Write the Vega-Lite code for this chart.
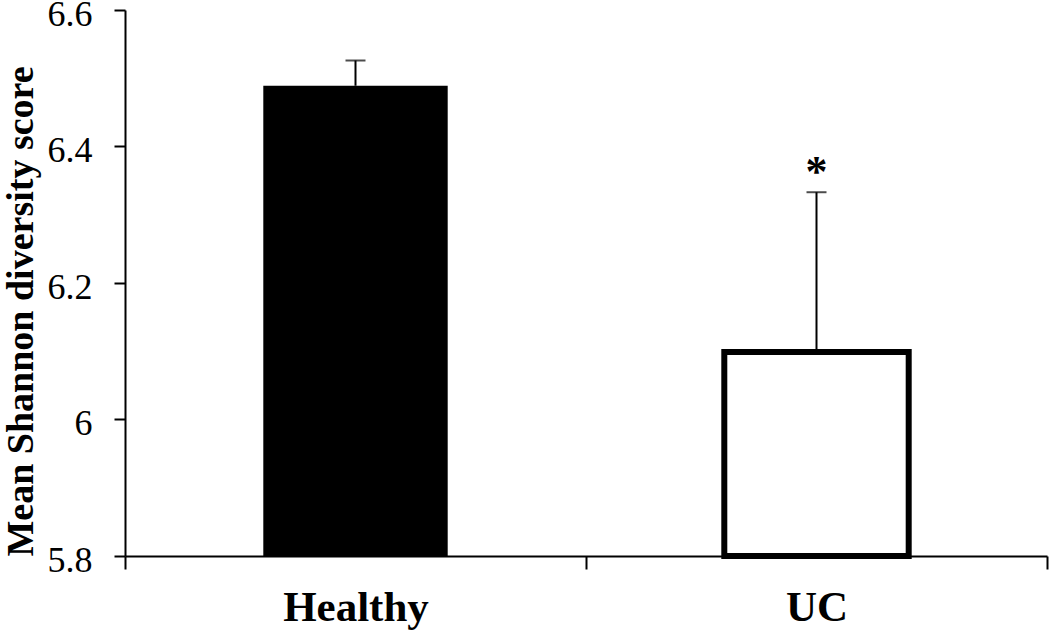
{
  "$schema": "https://vega.github.io/schema/vega-lite/v6.json",
  "autosize": {"type": "none"},
  "width": 922,
  "height": 546,
  "padding": {"left": 125, "top": 10, "right": 3, "bottom": 81},
  "background": "white",
  "config": {"view": {"stroke": null}, "font": "Liberation Serif"},
  "data": {"values": [
    {"group": "Healthy", "mean": 6.489, "upper": 6.526, "sig": ""},
    {"group": "UC", "mean": 6.099, "upper": 6.333, "sig": "*"}
  ]},
  "encoding": {
    "x": {
      "field": "group", "type": "nominal", "sort": null,
      "scale": {"paddingInner": 0, "paddingOuter": 0},
      "axis": {
        "title": null, "labelAngle": 0, "domainColor": "black", "domainWidth": 2,
        "tickColor": "black", "tickWidth": 2, "tickSize": 13, "tickBand": "extent",
        "labelFont": "Liberation Serif", "labelFontWeight": "bold", "labelFontSize": 43,
        "labelColor": "black", "labelPadding": 17, "zindex": 1
      }
    }
  },
  "layer": [
    {
      "mark": {"type": "bar", "stroke": "black", "strokeJoin": "miter", "width": {"band": 0.4}},
      "encoding": {
        "y": {
          "field": "mean", "type": "quantitative",
          "scale": {"domain": [5.8, 6.6], "nice": false, "zero": false},
          "axis": {
            "values": [5.8, 6.0, 6.2, 6.4, 6.6], "format": ".1~f", "grid": false,
            "domainColor": "black", "domainWidth": 2, "tickColor": "black", "tickWidth": 2,
            "tickSize": 11, "labelFont": "Liberation Serif", "labelFontSize": 36,
            "labelColor": "black", "labelPadding": 22, "labelOffset": 4,
            "title": "Mean Shannon diversity score", "titleFont": "Liberation Serif",
            "titleFontWeight": "bold", "titleFontSize": 38, "titleColor": "black",
            "titleX": -104, "titleY": 301, "titleAngle": -90, "titleAlign": "center",
            "titleBaseline": "middle", "zindex": 1
          }
        },
        "y2": {"datum": 5.8},
        "fill": {
          "field": "group", "type": "nominal",
          "scale": {"domain": ["Healthy", "UC"], "range": ["black", "white"]},
          "legend": null
        },
        "strokeWidth": {
          "field": "group", "type": "nominal",
          "scale": {"domain": ["Healthy", "UC"], "range": [0, 6]},
          "legend": null
        }
      }
    },
    {
      "mark": {"type": "rule", "color": "black", "strokeWidth": 2},
      "encoding": {
        "y": {"field": "mean", "type": "quantitative"},
        "y2": {"field": "upper"}
      }
    },
    {
      "mark": {"type": "tick", "color": "black", "thickness": 2, "size": 20},
      "encoding": {
        "y": {"field": "upper", "type": "quantitative"}
      }
    },
    {
      "mark": {"type": "text", "font": "Liberation Serif", "fontWeight": "bold", "fontSize": 44, "baseline": "alphabetic", "dy": -6},
      "encoding": {
        "y": {"field": "upper", "type": "quantitative"},
        "text": {"field": "sig"}
      }
    }
  ]
}
